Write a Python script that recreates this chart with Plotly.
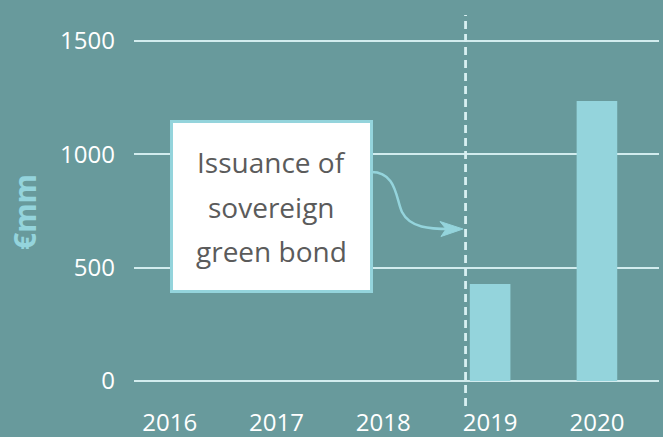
import plotly.graph_objects as go

# ---- data ----
years = [2016, 2017, 2018, 2019, 2020]
year_labels = ["2016", "2017", "2018", "2019", "2020"]
issuance = [0, 0, 0, 428, 1235]          # €mm
y_ticks = [0, 500, 1000, 1500]
y_tick_labels = ["0", "500", "1000", "1500"]
event_year = 2018.77                       # issuance of sovereign green bond
note_lines = ["Issuance of", "sovereign", "green bond"]
y_title = "€mm"

# ---- layout constants ----
WIDTH, HEIGHT = 663, 437
ML, MR, MT, MB = 134, 4, 15, 56
X0, X1 = 2015.666, 2020.581
Y0, Y1 = 0, 1614.7
PW, PH = WIDTH - ML - MR, HEIGHT - MT - MB

BG = "#689a9c"
BAR = "#94d4dc"
GRID = "#d2ecee"
TEXT_GREY = "#5b5b5b"
FONT = "Open Sans"


def to_data(px, py):
    x = X0 + (px - ML) / PW * (X1 - X0)
    y = Y1 - (py - MT) / PH * (Y1 - Y0)
    return x, y


def to_paper(px, py):
    return (px - ML) / PW, 1 - (py - MT) / PH


fig = go.Figure()
fig.add_trace(go.Bar(
    x=years, y=issuance, width=0.38,
    marker=dict(color=BAR, line=dict(width=0)),
    hoverinfo="skip",
))

# dashed event line
fig.add_shape(type="line", xref="x", yref="paper",
              x0=event_year, x1=event_year, y0=to_paper(0, 406)[1], y1=1,
              line=dict(color="#d8f0f2", width=2.8, dash="8px,5px"), layer="above")

# annotation box
bx0, by1 = to_data(171.5, 121.5)
bx1, by0 = to_data(371.5, 291.5)
fig.add_shape(type="rect", xref="x", yref="y", x0=bx0, x1=bx1, y0=by0, y1=by1,
              fillcolor="white", line=dict(color=BAR, width=3), layer="above")

line_y = [162, 207, 251]
cx = to_data(271, 0)[0]
for txt, py in zip(note_lines, line_y):
    fig.add_annotation(x=cx, y=to_data(0, py)[1], xref="x", yref="y",
                       text=txt, showarrow=False, xanchor="center", yanchor="middle",
                       font=dict(family=FONT, size=28, color=TEXT_GREY))

# curved arrow
pts = [(370, 172), (397, 171), (396, 200), (402, 212), (410, 228), (430, 229), (450, 229)]
d = [to_data(*p) for p in pts]
path = "M {},{} C {},{} {},{} {},{} C {},{} {},{} {},{}".format(
    d[0][0], d[0][1], d[1][0], d[1][1], d[2][0], d[2][1], d[3][0], d[3][1],
    d[4][0], d[4][1], d[5][0], d[5][1], d[6][0], d[6][1])
fig.add_shape(type="path", xref="x", yref="y", path=path,
              line=dict(color=BAR, width=2.5), layer="above")
head = [to_data(463, 229), to_data(440, 221.5), to_data(446, 229), to_data(441, 236.5)]
hpath = "M {},{} L {},{} L {},{} L {},{} Z".format(
    head[0][0], head[0][1], head[1][0], head[1][1], head[2][0], head[2][1], head[3][0], head[3][1])
fig.add_shape(type="path", xref="x", yref="y", path=hpath,
              fillcolor=BAR, line=dict(color=BAR, width=1), layer="above")

# y title
tx, ty = to_paper(24, 212)
fig.add_annotation(x=tx, y=ty, xref="paper", yref="paper", text="<b>" + y_title + "</b>",
                   textangle=-90, showarrow=False, xanchor="center", yanchor="middle",
                   font=dict(family=FONT, size=30, color=BAR))

fig.update_layout(
    width=WIDTH, height=HEIGHT,
    margin=dict(l=ML, r=MR, t=MT, b=MB, pad=0, autoexpand=False),
    paper_bgcolor=BG, plot_bgcolor=BG,
    showlegend=False,
    font=dict(family=FONT, color="white", size=24),
    xaxis=dict(range=[X0, X1], tickvals=years, ticktext=year_labels,
               showgrid=False, zeroline=False, showline=False, ticks="",
               ticklabelstandoff=25, automargin=False,
               tickfont=dict(family=FONT, size=24, color="white")),
    yaxis=dict(range=[Y0, Y1], tickvals=y_ticks, ticktext=y_tick_labels,
               showgrid=True, gridcolor=GRID, gridwidth=2,
               zeroline=True, zerolinecolor=GRID, zerolinewidth=2,
               showline=False, ticks="", ticklabelstandoff=18, automargin=False,
               tickfont=dict(family=FONT, size=24, color="white")),
)

fig.write_html(
    "out.html",
    config={"displayModeBar": False, "staticPlot": True},
    post_script="document.body.style.margin='0';document.body.style.background='" + BG + "';"
                "document.body.style.overflow='hidden';",
)
